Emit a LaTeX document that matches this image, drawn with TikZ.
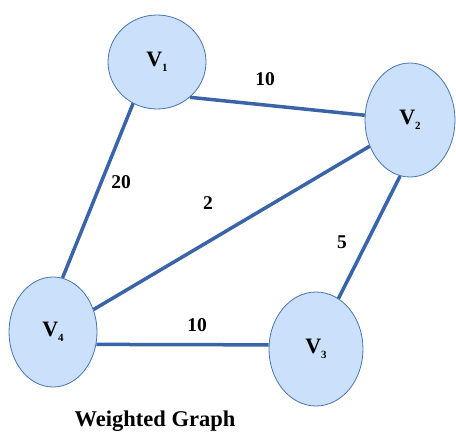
\documentclass[tikz,border=0pt]{standalone}
\usepackage{fontspec}
\setmainfont{Liberation Serif}
\usetikzlibrary{shapes.geometric}
\definecolor{vfill}{RGB}{203,224,250}
\definecolor{vdraw}{RGB}{72,115,178}
\definecolor{ecol}{RGB}{58,100,168}
\tikzset{
  vert/.style={ellipse,draw=vdraw,fill=vfill,thick,inner sep=0pt,
    font=\fontsize{22}{22}\selectfont\bfseries},
  edge/.style={draw=ecol,line width=3.5pt},
  wt/.style={font=\fontsize{19.5}{20}\selectfont\bfseries,inner sep=1pt},
}
\newcommand{\vx}[1]{V\raisebox{-0.45ex}{\fontsize{11}{11}\selectfont #1}}

\begin{document}
\begin{tikzpicture}[x=1pt,y=-1pt]
  \useasboundingbox (0,0) rectangle (456,437);
  \node[vert,minimum width=98pt,minimum height=94pt] (v1) at (157,62) {\vx{1}};
  \node[vert,minimum width=90pt,minimum height=114pt] (v2) at (410,120) {\vx{2}};
  \node[vert,minimum width=94pt,minimum height=114pt] (v3) at (316,349) {\vx{3}};
  \node[vert,minimum width=88pt,minimum height=110pt] (v4) at (53,332) {\vx{4}};
  % edges
  \draw[edge] (v1.-47) -- (v2.174);
  \draw[edge] (v1.240) -- (v4.80);
  \draw[edge] (v4.29) -- (v2.213);
  \draw[edge] (v4.-16) -- (v3.175);
  \draw[edge] (v3.66) -- (v2.260);
  % weights
  \node[wt] (w12) at (265,79) {10};
  \node[wt] (w14) at (121,182) {20};
  \node[wt] (w24) at (208,203) {2};
  \node[wt] (w23) at (342,242) {5};
  \node[wt] (w34) at (197,325) {10};
  \node[font=\fontsize{22.5}{23}\selectfont\bfseries,anchor=base] (cap) at (155,426) {Weighted Graph};
\end{tikzpicture}
\end{document}
